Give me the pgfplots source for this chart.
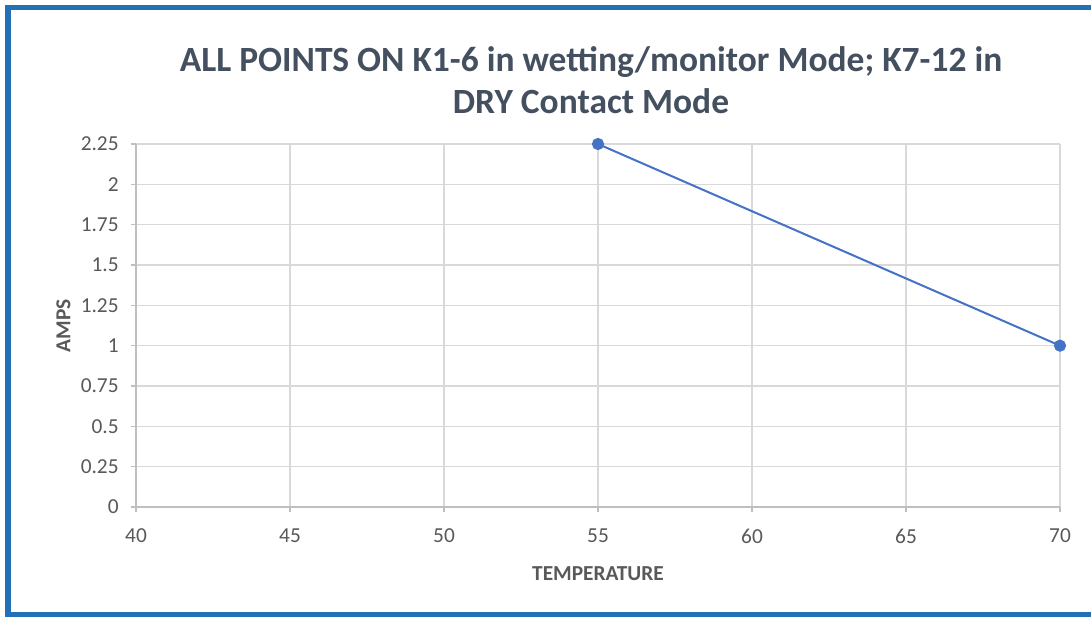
\documentclass[border=0pt]{standalone}
\usepackage{pgfplots}
\pgfplotsset{compat=1.18}
\usepackage{fontspec}
\setmainfont{Carlito}
\definecolor{framebl}{HTML}{2270B6}
\definecolor{ttl}{HTML}{44505F}
\definecolor{tck}{HTML}{595959}
\definecolor{grd}{HTML}{D9D9D9}
\definecolor{axl}{HTML}{BFBFBF}
\definecolor{ser}{HTML}{4472C4}
\begin{document}
\begin{tikzpicture}
\useasboundingbox (0,0) rectangle (818.25pt,463.5pt);
\fill[white] (0,0) rectangle (818.25pt,463.5pt);
\draw[framebl, line width=4pt] (818.25pt,458pt) -- (6pt,458pt) -- (6pt,2.6pt) -- (818.25pt,2.6pt);
\begin{axis}[
  at={(102pt,83.25pt)}, anchor=south west,
  scale only axis, width=693pt, height=272.25pt,
  xmin=40, xmax=70, ymin=0, ymax=2.25,
  xtick={40,45,...,70},
  ytick={0,0.25,...,2.25},
  yticklabels={0,0.25,0.5,0.75,1,1.25,1.5,1.75,2,2.25},
  axis x line*=bottom, axis y line*=left,
  axis line style={axl, line width=0.8pt},
  tick style={axl, line width=0.8pt},
  tick align=outside, major tick length=4pt,
  grid=major, major grid style={grd, line width=0.8pt},
  /pgf/number format/assume math mode=true,
  ticklabel style={font=\fontsize{16}{19}\selectfont, text=tck},
  xticklabel style={yshift=-9pt},
  yticklabel style={xshift=-5.5pt},
  xlabel={TEMPERATURE}, ylabel={AMPS},
  xlabel style={at={(axis description cs:0.5,0)}, anchor=center, yshift=-50.25pt, font=\fontsize{16}{19}\selectfont\bfseries, text=tck},
  ylabel style={at={(axis description cs:0,0.5)}, anchor=center, rotate=0, yshift=54.4pt, font=\fontsize{16}{19}\selectfont\bfseries, text=tck},
  title={ALL POINTS ON K1-6 in wetting/monitor Mode; K7-12 in\\DRY Contact Mode},
  title style={at={(axis description cs:0.4924,1.154)}, anchor=center, align=center, font=\fontsize{26.6}{31.5}\selectfont\bfseries, text=ttl},
  clip=false,
]
\addplot[color=ser, line width=1.5pt, mark=*, mark size=3.8pt, mark options={fill=ser, draw=ser}] coordinates {(55,2.25) (70,1)};
\end{axis}
\end{tikzpicture}
\end{document}
